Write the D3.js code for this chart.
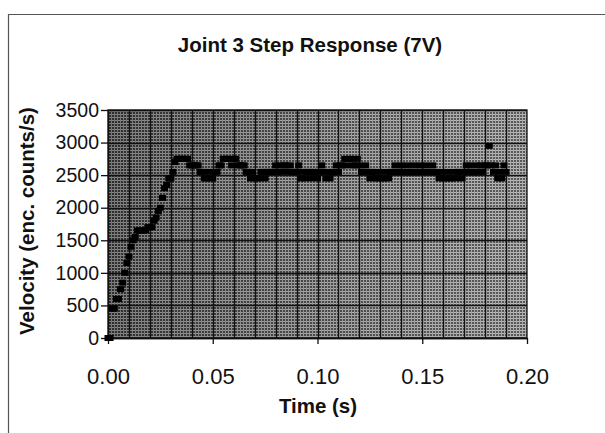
<!DOCTYPE html>
<html>
<head>
<meta charset="utf-8">
<script src="https://cdn.jsdelivr.net/npm/d3@7"></script>
<style>
  body { margin: 0; background: #fff; }
  text { font-family: "Liberation Sans", Arial, sans-serif; fill: #111; }
</style>
</head>
<body>
<div id="canvas"></div>
<script>
"use strict"

// sampling period of the logged data (s)
let sampleDt = 0.001;

// velocity samples (enc. counts/s), one per sample period
let velocity = [
  0, 0, 450, 450, 600, 600, 750, 850, 1000, 1150,
  1250, 1400, 1500, 1550, 1650, 1650, 1650, 1650, 1650, 1700,
  1700, 1700, 1800, 1850, 1950, 2000, 2150, 2300, 2350, 2450,
  2450, 2550, 2700, 2750, 2750, 2750, 2750, 2750, 2750, 2650,
  2650, 2650, 2650, 2650, 2550, 2550, 2450, 2450, 2550, 2450,
  2450, 2550, 2550, 2650, 2650, 2750, 2750, 2750, 2750, 2650,
  2750, 2750, 2650, 2650, 2650, 2650, 2550, 2550, 2450, 2550,
  2450, 2450, 2450, 2550, 2550, 2450, 2550, 2550, 2550, 2550,
  2650, 2550, 2650, 2550, 2650, 2650, 2550, 2650, 2550, 2550,
  2550, 2650, 2450, 2550, 2450, 2550, 2550, 2450, 2550, 2550,
  2450, 2550, 2650, 2550, 2450, 2550, 2450, 2550, 2550, 2650,
  2550, 2650, 2650, 2750, 2650, 2750, 2750, 2650, 2650, 2750,
  2650, 2550, 2550, 2650, 2550, 2450, 2550, 2550, 2450, 2450,
  2550, 2450, 2450, 2550, 2450, 2550, 2550, 2650, 2550, 2550,
  2650, 2550, 2550, 2650, 2550, 2550, 2650, 2550, 2550, 2650,
  2550, 2550, 2650, 2550, 2550, 2650, 2550, 2550, 2450, 2550,
  2450, 2450, 2550, 2450, 2450, 2550, 2450, 2550, 2550, 2450,
  2550, 2650, 2550, 2650, 2550, 2550, 2650, 2550, 2650, 2550,
  2650, 2650, 2950, 2650, 2550, 2650, 2450, 2550, 2450, 2650,
  2550
];

let xTicks = [0, 0.05, 0.10, 0.15, 0.20];
let yTicks = [0, 500, 1000, 1500, 2000, 2500, 3000, 3500];
let xGrid = [0.01, 0.02, 0.03, 0.04, 0.05, 0.06, 0.07, 0.08, 0.09, 0.10,
             0.11, 0.12, 0.13, 0.14, 0.15, 0.16, 0.17, 0.18, 0.19];

let svgWidth = 605;
let svgHeight = 433;
let plot = { left: 108, right: 527, top: 110, bottom: 338 };

let svg = d3.select("#canvas")
    .append("svg")
    .attr("width", svgWidth)
    .attr("height", svgHeight);

svg.append("rect")
    .attr("width", svgWidth)
    .attr("height", svgHeight)
    .attr("fill", "#fff");

// chart frame (top and left edges visible in the scan)
svg.append("path")
    .attr("d", "M8.5," + svgHeight + "V14.5H" + svgWidth)
    .attr("fill", "none")
    .attr("stroke", "#555")
    .attr("stroke-width", 1.2);

let defs = svg.append("defs");

// halftone-ish texture for the plot area
let pat = defs.append("pattern")
    .attr("id", "dots")
    .attr("width", 3)
    .attr("height", 3)
    .attr("patternUnits", "userSpaceOnUse");
pat.append("rect").attr("width", 3).attr("height", 3).attr("fill", "#3c3c3c");
pat.append("rect").attr("width", 3).attr("height", 1).attr("fill", "#b0b0b0");
pat.append("rect").attr("width", 1).attr("height", 3).attr("fill", "#9c9c9c");

let grad = defs.append("linearGradient")
    .attr("id", "fade")
    .attr("x1", 0).attr("x2", 1).attr("y1", 0).attr("y2", 0);
grad.append("stop").attr("offset", "0%").attr("stop-color", "#000").attr("stop-opacity", 0.25);
grad.append("stop").attr("offset", "100%").attr("stop-color", "#fff").attr("stop-opacity", 0.15);

let xScale = d3.scaleLinear()
    .domain([0, 0.2])
    .range([plot.left, plot.right]);

let yScale = d3.scaleLinear()
    .domain([0, 3500])
    .range([plot.bottom, plot.top]);

// plot area
svg.append("rect")
    .attr("x", plot.left)
    .attr("y", plot.top)
    .attr("width", plot.right - plot.left)
    .attr("height", plot.bottom - plot.top)
    .attr("fill", "url(#dots)");
svg.append("rect")
    .attr("x", plot.left)
    .attr("y", plot.top)
    .attr("width", plot.right - plot.left)
    .attr("height", plot.bottom - plot.top)
    .attr("fill", "url(#fade)");

// gridlines
svg.append("g")
    .selectAll("line")
    .data(xGrid)
    .join("line")
    .attr("x1", function(d) { return Math.round(xScale(d)) + 0.5; })
    .attr("x2", function(d) { return Math.round(xScale(d)) + 0.5; })
    .attr("y1", plot.top)
    .attr("y2", plot.bottom)
    .attr("stroke", "#111")
    .attr("stroke-width", 1.3);

svg.append("g")
    .selectAll("line")
    .data(yTicks)
    .join("line")
    .attr("x1", plot.left)
    .attr("x2", plot.right)
    .attr("y1", function(d) { return Math.round(yScale(d)) + 0.5; })
    .attr("y2", function(d) { return Math.round(yScale(d)) + 0.5; })
    .attr("stroke", "#111")
    .attr("stroke-width", 1.3);

svg.append("rect")
    .attr("x", plot.left)
    .attr("y", plot.top)
    .attr("width", plot.right - plot.left)
    .attr("height", plot.bottom - plot.top)
    .attr("fill", "none")
    .attr("stroke", "#111")
    .attr("stroke-width", 1.3);

// axes
let xAxis = d3.axisBottom(xScale)
    .tickValues(xTicks)
    .tickSize(6)
    .tickSizeOuter(0)
    .tickPadding(24)
    .tickFormat(d3.format(".2f"));

let yAxis = d3.axisLeft(yScale)
    .tickValues(yTicks)
    .tickSize(7)
    .tickSizeOuter(0)
    .tickPadding(2)
    .tickFormat(d3.format("d"));

let gx = svg.append("g")
    .attr("transform", "translate(0," + plot.bottom + ")")
    .call(xAxis);
gx.selectAll("text").style("font-size", "22px").attr("fill", "#111");

let gy = svg.append("g")
    .attr("transform", "translate(" + plot.left + ",0)")
    .call(yAxis);
gy.selectAll("text").style("font-size", "19.5px").attr("fill", "#111");

svg.selectAll(".domain, .tick line")
    .attr("stroke", "#111")
    .attr("stroke-width", 1.3);

// data markers
svg.append("g")
    .selectAll("rect")
    .data(velocity)
    .join("rect")
    .attr("x", function(d, i) { return xScale(i * sampleDt) - 3.5; })
    .attr("y", function(d) { return yScale(d) - 3; })
    .attr("width", 7)
    .attr("height", 6)
    .attr("fill", "#000");

// titles
svg.append("text")
    .attr("x", 310)
    .attr("y", 52)
    .attr("text-anchor", "middle")
    .attr("font-weight", "bold")
    .style("font-size", "20.5px")
    .text("Joint 3 Step Response (7V)");

svg.append("text")
    .attr("x", 318)
    .attr("y", 413)
    .attr("text-anchor", "middle")
    .attr("font-weight", "bold")
    .style("font-size", "20.5px")
    .text("Time (s)");

svg.append("text")
    .attr("transform", "translate(34,221) rotate(-90)")
    .attr("text-anchor", "middle")
    .attr("font-weight", "bold")
    .style("font-size", "20.5px")
    .text("Velocity (enc. counts/s)");
</script>
</body>
</html>
